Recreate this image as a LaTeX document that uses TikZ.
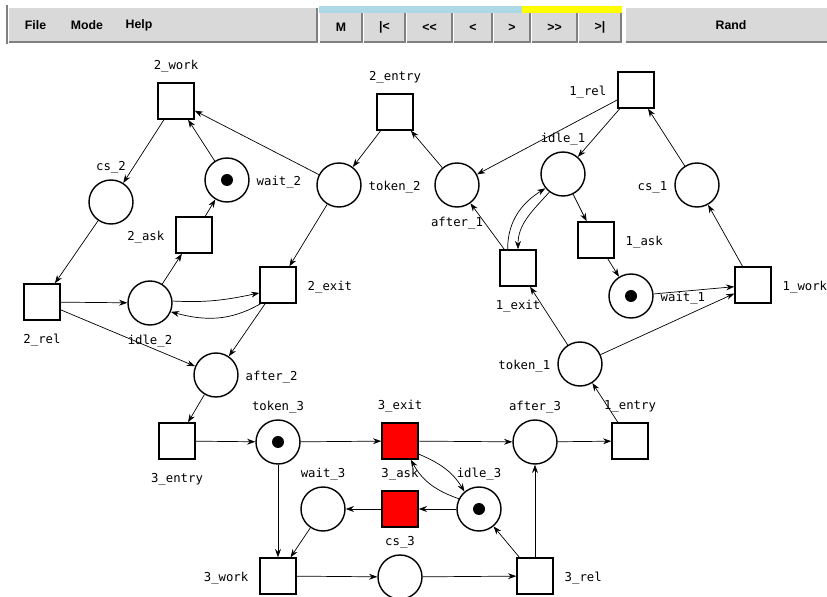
\documentclass[tikz,border=0pt]{standalone}
\usepackage{fontspec}
\usepackage{tikz}
\usetikzlibrary{arrows.meta,positioning}
\newfontfamily\netfont{DejaVu Sans Mono}
\newfontfamily\barfont{Liberation Sans}
\definecolor{firedred}{RGB}{255,0,0}
\definecolor{barface}{RGB}{217,217,217}
\definecolor{barshade}{RGB}{128,128,128}
\definecolor{stepdone}{RGB}{173,216,230}
\definecolor{steptodo}{RGB}{255,255,0}
\tikzset{>={Stealth[length=7pt,width=5pt]},
         place/.style={circle, draw, line width=1.2pt, minimum size=1.32cm, inner sep=0pt},
         trans/.style={rectangle, draw, line width=1.2pt, minimum size=1.08cm, inner sep=0pt},
         marked/.style={path picture={\fill (path picture bounding box.center) circle (0.18cm);}},
         fired/.style={fill=firedred},
         every label/.style={font=\netfont\fontsize{10.5}{12}\selectfont, inner sep=0pt,
                             outer sep=0.21cm, text height=0.36cm, text depth=0.045cm},
         tl/.style={outer sep=0.33cm},
         flow/.style={->, line width=0.6pt},
         key/.style={font=\barfont\bfseries\fontsize{10.5}{12}\selectfont, inner sep=0pt}}

\begin{document}
\begin{tikzpicture}[x=0.03cm, y=0.03cm]
	\useasboundingbox (0,0) rectangle (827,-597);

	% menu bar
	\fill[barface] (9,-8) rectangle (317,-42);
	\draw[barshade, line width=1pt] (9,-42) -- (317,-42) -- (317,-8);
	\draw[barshade, line width=1pt] (7,-5) -- (7,-44);
	\node[key] (file) at (35.5,-25) {File};
	\node[key] (mode) at (87,-25) {Mode};
	\node[key] (help) at (139,-25) {Help};

	% step buttons with the progress strip on top
	\fill[stepdone] (319,-6) rectangle (522,-13);
	\fill[steptodo] (522,-6) rectangle (622,-13);
	\foreach \t/\a/\b [count=\i] in {M/319/363, {|<}/363/406, {<<}/406/453, {<}/453/493,
	                                 {>}/493/531, {>>}/531/578, {>|}/578/622}
	{
		\fill[barface] (\a+1,-13) rectangle (\b-1,-42);
		\draw[barshade, line width=1pt] (\a+1,-42) -- (\b-1,-42) -- (\b-1,-13);
		\node[key] (btn\i) at ({(\a+\b)/2},-27.5) {\t};
	}
	\fill[barface] (626,-8) rectangle (827,-42);
	\draw[barshade, line width=1pt] (626,-42) -- (827,-42);
	\node[key] (rand) at (731,-25) {Rand};

	% transitions
	\node[trans, label={[tl]above:2\_work}] (work2) at (176,-101) {};
	\node[trans, label={[tl]above:2\_entry}] (entry2) at (395,-112) {};
	\node[trans, label={[tl]left:1\_rel}] (rel1) at (636,-90) {};
	\node[trans, label={[tl]left:2\_ask}] (ask2) at (194,-235) {};
	\node[trans, label={[tl]below:2\_rel}] (rel2) at (42,-302) {};
	\node[trans, label={[tl]right:2\_exit}] (exit2) at (278,-285) {};
	\node[trans, label={[tl]below:1\_exit}] (exit1) at (518,-268) {};
	\node[trans, label={[tl]right:1\_ask}] (ask1) at (596,-240) {};
	\node[trans, label={[tl]right:1\_work}] (work1) at (753,-285) {};
	\node[trans, label={[tl]below:3\_entry}] (entry3) at (177,-441) {};
	\node[trans, fired, label={[tl]above:3\_exit}] (exit3) at (400,-441) {};
	\node[trans, label={[tl]above:1\_entry}] (entry1) at (630,-441) {};
	\node[trans, fired, label={[tl]above:3\_ask}] (ask3) at (400,-509) {};
	\node[trans, label={[tl]left:3\_work}] (work3) at (278,-576) {};
	\node[trans, label={[tl]right:3\_rel}] (rel3) at (535,-576) {};

	% places
	\node[place, label=above:cs\_2] (cs2) at (111,-202) {};
	\node[place, marked, label=right:wait\_2] (wait2) at (227,-180) {};
	\node[place, label=right:token\_2] (token2) at (339,-185) {};
	\node[place, label=below:after\_1] (after1) at (457,-185) {};
	\node[place, label=above:idle\_1] (idle1) at (563,-174) {};
	\node[place, label=left:cs\_1] (cs1) at (697,-185) {};
	\node[place, label=below:idle\_2] (idle2) at (150,-303) {};
	\node[place, marked, label=right:wait\_1] (wait1) at (631,-296) {};
	\node[place, label=right:after\_2] (after2) at (216,-375) {};
	\node[place, label=left:token\_1] (token1) at (580,-364) {};
	\node[place, marked, label=above:token\_3] (token3) at (278,-442) {};
	\node[place, label=above:after\_3] (after3) at (535,-442) {};
	\node[place, label=above:wait\_3] (wait3) at (323,-509) {};
	\node[place, marked, label=above:idle\_3] (idle3) at (479,-509) {};
	\node[place, label=above:cs\_3] (cs3) at (400,-577) {};

	% arcs
	\draw[flow] (work2) -- (cs2);
	\draw[flow] (wait2) -- (work2);
	\draw[flow] (token2) -- (work2);
	\draw[flow] (entry2) -- (token2);
	\draw[flow] (after1) -- (entry2);
	\draw[flow] (rel1) -- (after1);
	\draw[flow] (rel1) -- (idle1);
	\draw[flow] (cs1) -- (rel1);
	\draw[flow] (idle1) -- (ask1);
	\draw[flow] (exit1) -- (after1);
	\draw[flow] (ask1) -- (wait1);
	\draw[flow] (wait1) -- (work1);
	\draw[flow] (token1) -- (work1);
	\draw[flow] (work1) -- (cs1);
	\draw[flow] (token1) -- (exit1);
	\draw[flow] (entry1) -- (token1);
	\draw[flow] (after3) -- (entry1);
	\draw[flow] (exit3) -- (after3);
	\draw[flow] (token3) -- (exit3);
	\draw[flow] (entry3) -- (token3);
	\draw[flow] (after2) -- (entry3);
	\draw[flow] (exit2) -- (after2);
	\draw[flow] (rel2) -- (after2);
	\draw[flow] (rel2) -- (idle2);
	\draw[flow] (cs2) -- (rel2);
	\draw[flow] (idle2) -- (ask2);
	\draw[flow] (ask2) -- (wait2);
	\draw[flow] (token2) -- (exit2);
	\draw[flow] (token3) -- (work3);
	\draw[flow] (wait3) -- (work3);
	\draw[flow] (work3) -- (cs3);
	\draw[flow] (cs3) -- (rel3);
	\draw[flow] (rel3) -- (after3);
	\draw[flow] (rel3) -- (idle3);
	\draw[flow] (idle3) -- (ask3);
	\draw[flow] (ask3) -- (wait3);

	% arcs in both directions
	\draw[flow] (exit1.119) to[out=90, in=212] (idle1.219);
	\draw[flow] (idle1.233) to[out=228, in=90] (exit1.north);
	\draw[flow] (idle2.5) to[out=-3, in=192] (exit2.203);
	\draw[flow] (exit2.227) to[out=210, in=-15] (idle2.-23);
	\draw[flow] (exit3.-35) to[out=-23, in=121] (idle3.130);
	\draw[flow] (idle3.153) to[out=161, in=-61] (exit3.-60);
\end{tikzpicture}
\end{document}
